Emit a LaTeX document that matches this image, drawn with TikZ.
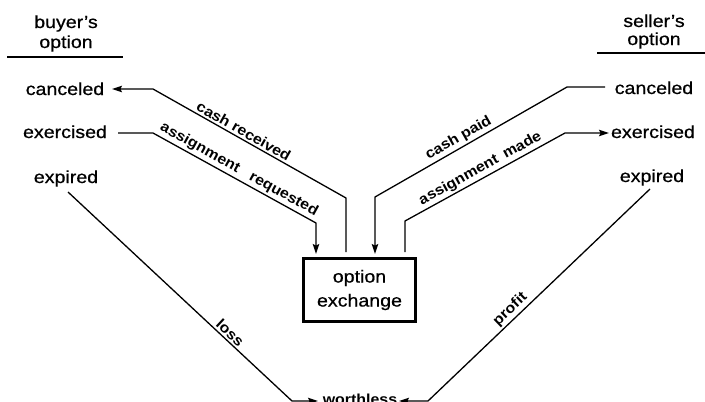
\documentclass[tikz,border=0pt]{standalone}
\usepackage{fontspec}
\setmainfont{Liberation Sans}
\newfontfamily\mainf{Liberation Sans}[FakeStretch=1.12,FakeBold=0.7]
\newfontfamily\lblf{Liberation Sans}[FakeStretch=1.1]
\usetikzlibrary{arrows.meta}
\begin{document}
\begin{tikzpicture}[x=1pt,y=-1pt,
  txt/.style={font=\mainf\fontsize{17.5}{24}\selectfont, inner sep=0pt, anchor=base},
  lbl/.style={font=\lblf\bfseries\fontsize{14.5}{17}\selectfont, inner sep=2pt, sloped, above},
  conn/.style={line width=1.3pt},
  tipend/.style={conn,-{Stealth[length=10pt,width=6.5pt,inset=1.5pt]}},
  tipstart/.style={conn,{Stealth[length=10pt,width=6.5pt,inset=1.5pt]}-},
]
\useasboundingbox (0,0) rectangle (705,402);

% headers
\node[txt] (bh1) at (66,28) {buyer’s};
\node[txt] (bh2) at (66,48) {option};
\node[txt] (sh1) at (654,27) {seller’s};
\node[txt] (sh2) at (654,45) {option};
\coordinate (bu1) at (7,57);  \coordinate (bu2) at (123,57);
\coordinate (su1) at (597,53); \coordinate (su2) at (705,53);
\draw[conn] (bu1) -- (bu2);
\draw[conn] (su1) -- (su2);

% states
\node[txt] (bcan) at (65,95) {canceled};
\node[txt] (bexe) at (65,138) {exercised};
\node[txt] (bexp) at (66,183) {expired};
\node[txt] (scan) at (654,94) {canceled};
\node[txt] (sexe) at (653,138) {exercised};
\node[txt] (sexp) at (652,182) {expired};

% exchange box
\node[font=\mainf\fontsize{17.5}{24}\selectfont, align=center, draw, line width=3pt,
      minimum width=112pt, minimum height=63pt, inner sep=0pt] (box) at (359.5,290) {option\\exchange};

% worthless
\node[font=\lblf\bfseries\fontsize{14.5}{17}\selectfont, inner sep=0pt, anchor=base] (worth) at (360,404) {worthless};

% cash received: exchange -> buyer canceled
\coordinate (cr0) at (112,89);
\coordinate (cr1) at (153,89);
\coordinate (cr2) at (346,198);
\coordinate (cr3) at (346,252);
\draw[tipstart] (cr0) -- (cr1) -- node[lbl,pos=0.45] (lcr) {cash received} (cr2) -- (cr3);

% assignment requested: buyer exercised -> exchange
\coordinate (ar0) at (118,133);
\coordinate (ar1) at (153,133);
\coordinate (ar2) at (316,223);
\coordinate (ar3) at (316,254);
\draw[tipend] (ar0) -- (ar1) -- node[lbl,pos=0.5] (lar) {assignment\hspace{0.9em}requested} (ar2) -- (ar3);

% cash paid: seller canceled -> exchange
\coordinate (cp0) at (375,254);
\coordinate (cp1) at (375,197);
\coordinate (cp2) at (567,87);
\coordinate (cp3) at (605,87);
\draw[tipstart] (cp0) -- (cp1) -- node[lbl,pos=0.46] (lcp) {cash paid} (cp2) -- (cp3);

% assignment made: exchange -> seller exercised
\coordinate (am0) at (405,252);
\coordinate (am1) at (405,221);
\coordinate (am2) at (565,133);
\coordinate (am3) at (609,133);
\draw[tipend] (am0) -- (am1) -- node[lbl,pos=0.5] (lam) {assignment\hspace{0.5em}made} (am2) -- (am3);

% loss: buyer expired -> worthless
\coordinate (lo0) at (68,192);
\coordinate (lo1) at (292,401);
\coordinate (lo2) at (318,401);
\draw[tipend] (lo0) -- node[lbl,pos=0.70] (llo) {loss} (lo1) -- (lo2);

% profit: seller expired -> worthless
\coordinate (pr0) at (399,401);
\coordinate (pr1) at (428,401);
\coordinate (pr2) at (650,189);
\draw[tipstart] (pr0) -- (pr1) -- node[lbl,pos=0.40] (lpr) {profit} (pr2);
\end{tikzpicture}
\end{document}
